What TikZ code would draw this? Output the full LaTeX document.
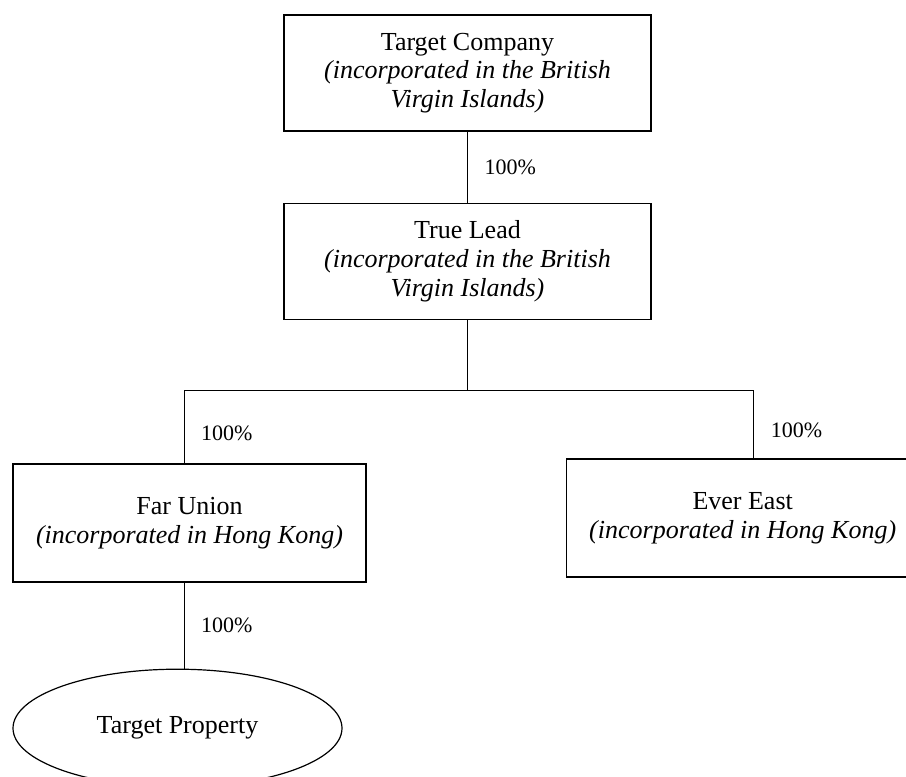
\documentclass[tikz,border=0pt]{standalone}
\usepackage{fontspec}
\setmainfont{Liberation Serif}
\usepackage{tikz}
\usetikzlibrary{positioning,shapes.geometric}

\begin{document}
\begin{tikzpicture}[
  entity/.style={draw, line width=0.6pt, align=center, inner sep=0pt,
    minimum width=176.5pt, minimum height=59pt, font=\fontsize{13}{14.3}\selectfont},
  wide/.style={entity, minimum width=183.5pt, minimum height=58pt},
  asset/.style={draw, ellipse, line width=0.6pt, inner sep=0pt,
    minimum width=164.5pt, minimum height=59pt, font=\fontsize{13}{14.3}\selectfont},
  link/.style={line width=0.5pt},
  share/.style={right=5pt, font=\fontsize{11}{12}\selectfont}
]
\useasboundingbox (0,0) rectangle (453pt,-388.5pt);
\clip (0,0) rectangle (453pt,-388.5pt);
\node[wide] (target) at (233.75pt,-36.5pt) {Target Company\\\textit{(incorporated in the British}\\\textit{Virgin Islands)}};
\node[wide, below=35.5pt of target] (truelead) {True Lead\\\textit{(incorporated in the British}\\\textit{Virgin Islands)}};
\node[entity] (farunion) at (94.75pt,-261.5pt) {Far Union\\\textit{(incorporated in Hong Kong)}};
\node[entity, right=99.5pt of farunion, yshift=2.5pt] (evereast) {Ever East\\\textit{(incorporated in Hong Kong)}};
\node[asset, below=43pt of farunion, xshift=-6pt] (property) {Target Property};
\coordinate (split) at ([yshift=-35.5pt]truelead.south);
\coordinate (drop) at ([xshift=-2.75pt]farunion.south);
\draw[link] (target) -- node[share]{100\%} (truelead);
\draw[link] (truelead) -- (split);
\draw[link] (split) -| node[share, pos=0.79]{100\%} ([xshift=-2.75pt]farunion.north);
\draw[link] (split) -| node[share, pos=0.79]{100\%} ([xshift=5.5pt]evereast.north);
\draw[link] (drop) -- node[share]{100\%} (drop |- property.north);
\end{tikzpicture}
\end{document}
